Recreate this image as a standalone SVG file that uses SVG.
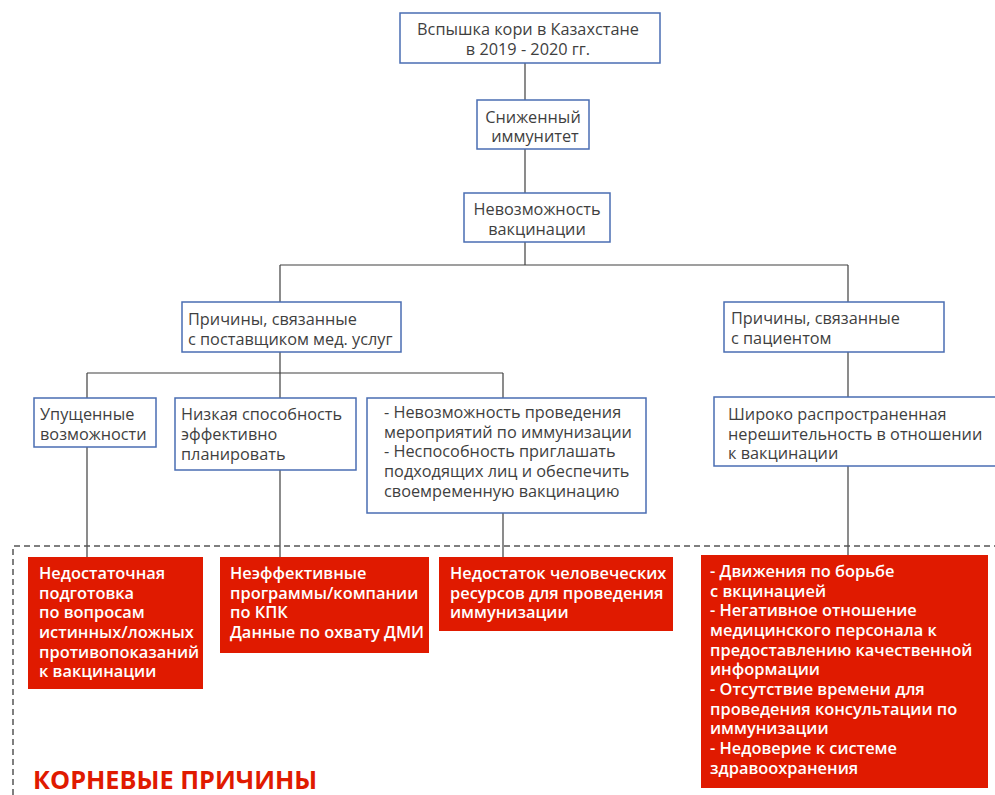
<svg xmlns="http://www.w3.org/2000/svg" width="995" height="795" viewBox="0 0 995 795">
<style>
.b{fill:#fff;stroke:#4a6db3;stroke-width:1.5}
.r{fill:#e01a00}
.t{font-family:"Open Sans","Noto Sans","DejaVu Sans",sans-serif;font-size:16.3px;fill:#3f3f3f}
.w{font-family:"Open Sans","Noto Sans","DejaVu Sans",sans-serif;font-size:16.4px;font-weight:600;fill:#fff}
.c{stroke:#404040;stroke-width:1.2;fill:none}
.d{stroke:#555;stroke-width:1.5;stroke-dasharray:6 4;fill:none}
</style>
<rect width="995" height="795" fill="#fff"/>
<g id="connectors">
<path class="c" d="M525 63V100M525 149V193M525 242V265M280 265H848M280 265V302M848 265V302M280 352V373M87 373H503M87 373V398M280 373V398M503 373V398M87 447V557M280 470V557M503 513V557M848 352V397M848 466V555"/>
</g>
<g id="boundary">
<path class="d" d="M13 795V546H995"/>
</g>
<g id="n1"><rect class="b" x="400" y="13" width="260" height="50"/>
<text class="t" text-anchor="middle"><tspan x="528" y="35">Вспышка кори в Казахстане</tspan><tspan x="528" y="55">в 2019 - 2020 гг.</tspan></text></g>
<g id="n2"><rect class="b" x="477" y="100" width="112" height="49"/>
<text class="t" text-anchor="middle"><tspan x="533" y="123">Сниженный</tspan><tspan x="535" y="142">иммунитет</tspan></text></g>
<g id="n3"><rect class="b" x="464" y="193" width="146" height="49"/>
<text class="t" text-anchor="middle"><tspan x="537" y="215">Невозможность</tspan><tspan x="537" y="235">вакцинации</tspan></text></g>
<g id="n4"><rect class="b" x="182" y="302" width="219" height="50"/>
<text class="t"><tspan x="188" y="325">Причины, связанные</tspan><tspan x="188" y="345">с поставщиком мед. услуг</tspan></text></g>
<g id="n5"><rect class="b" x="724" y="302" width="220" height="50"/>
<text class="t"><tspan x="731" y="324">Причины, связанные</tspan><tspan x="731" y="344">с пациентом</tspan></text></g>
<g id="n6"><rect class="b" x="34" y="398" width="122" height="49"/>
<text class="t"><tspan x="40" y="420">Упущенные</tspan><tspan x="40" y="440">возможности</tspan></text></g>
<g id="n7"><rect class="b" x="175" y="398" width="181" height="72"/>
<text class="t"><tspan x="181" y="420">Низкая способность</tspan><tspan x="181" y="440">эффективно</tspan><tspan x="181" y="460">планировать</tspan></text></g>
<g id="n8"><rect class="b" x="367" y="398" width="279" height="115"/>
<text class="t"><tspan x="384" y="418">- Невозможность проведения</tspan><tspan x="384" y="438">мероприятий по иммунизации</tspan><tspan x="384" y="457">- Неспособность приглашать</tspan><tspan x="384" y="477">подходящих лиц и обеспечить</tspan><tspan x="384" y="497">своемременную вакцинацию</tspan></text></g>
<g id="n9"><rect class="b" x="714" y="397" width="283" height="69"/>
<text class="t"><tspan x="728" y="420">Широко распространенная</tspan><tspan x="728" y="440">нерешительность в отношении</tspan><tspan x="728" y="459">к вакцинации</tspan></text></g>
<g id="r1"><rect class="r" x="28" y="557" width="175" height="132"/>
<text class="w"><tspan x="39" y="579">Недостаточная</tspan><tspan x="39" y="599">подготовка</tspan><tspan x="39" y="618">по вопросам</tspan><tspan x="39" y="638">истинных/ложных</tspan><tspan x="39" y="658">противопоказаний</tspan><tspan x="39" y="677">к вакцинации</tspan></text></g>
<g id="r2"><rect class="r" x="220" y="557" width="209" height="96"/>
<text class="w"><tspan x="230" y="579">Неэффективные</tspan><tspan x="230" y="599">программы/компании</tspan><tspan x="230" y="618">по КПК</tspan><tspan x="230" y="638">Данные по охвату ДМИ</tspan></text></g>
<g id="r3"><rect class="r" x="439" y="557" width="234" height="74"/>
<text class="w"><tspan x="450" y="579">Недостаток человеческих</tspan><tspan x="450" y="599">ресурсов для проведения</tspan><tspan x="450" y="618">иммунизации</tspan></text></g>
<g id="r4"><rect class="r" x="701" y="555" width="287" height="233"/>
<text class="w"><tspan x="710" y="577">- Движения по борьбе</tspan><tspan x="710" y="597">с вкцинацией</tspan><tspan x="710" y="616">- Негативное отношение</tspan><tspan x="710" y="636">медицинского персонала к</tspan><tspan x="710" y="656">предоставлению качественной</tspan><tspan x="710" y="675">информации</tspan><tspan x="710" y="695">- Отсутствие времени для</tspan><tspan x="710" y="715">проведения консультации по</tspan><tspan x="710" y="734">иммунизации</tspan><tspan x="710" y="754">- Недоверие к системе</tspan><tspan x="710" y="774">здравоохранения</tspan></text></g>
<g id="title"><text x="33" y="789" style="font-family:'Open Sans','Noto Sans',sans-serif;font-size:25.3px;font-weight:700;fill:#e01a00">КОРНЕВЫЕ ПРИЧИНЫ</text></g>
</svg>
